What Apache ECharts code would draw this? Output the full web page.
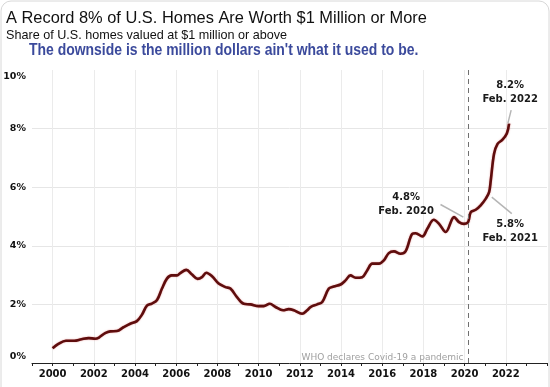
<!DOCTYPE html>
<html>
<head>
<meta charset="utf-8">
<script src="https://cdn.jsdelivr.net/npm/echarts@6/dist/echarts.min.js"></script>
<style>html,body{margin:0;padding:0;background:#fff;}#c{width:550px;height:387px;}</style>
</head>
<body>
<div id="c"></div>
<script>
// ---- data ----
const years = [2000.0,2000.28,2000.65,2001.05,2001.4,2001.75,2002.07,2002.25,2002.55,2002.8,2003.12,2003.44,2003.77,2004.09,2004.34,2004.58,2004.82,2005.07,2005.31,2005.55,2005.78,2006.04,2006.2,2006.49,2006.77,2007.04,2007.25,2007.46,2007.74,2008.06,2008.39,2008.63,2008.95,2009.28,2009.6,2010.0,2010.25,2010.54,2010.82,2011.19,2011.46,2011.71,2012.11,2012.36,2012.52,2012.84,2013.09,2013.41,2013.65,2013.98,2014.22,2014.46,2014.71,2015.03,2015.27,2015.52,2015.84,2016.08,2016.32,2016.57,2016.89,2017.14,2017.46,2017.62,2017.95,2018.19,2018.5,2018.76,2019.08,2019.49,2019.73,2019.97,2020.17,2020.3,2020.54,2020.78,2021.03,2021.19,2021.27,2021.43,2021.6,2021.84,2022.05,2022.16];
const shares = [0.50,0.65,0.76,0.76,0.81,0.85,0.83,0.87,1.02,1.08,1.09,1.22,1.34,1.43,1.65,1.96,2.03,2.15,2.54,2.88,2.99,2.99,3.07,3.18,3.02,2.87,2.93,3.08,2.96,2.71,2.59,2.54,2.25,2.02,2.0,1.94,1.94,2.02,1.91,1.8,1.84,1.8,1.68,1.8,1.91,2.0,2.08,2.54,2.61,2.68,2.82,2.99,2.91,2.93,3.16,3.39,3.39,3.5,3.75,3.81,3.73,3.82,4.41,4.43,4.32,4.58,4.89,4.75,4.47,4.98,4.81,4.75,4.81,5.15,5.23,5.38,5.61,5.83,6.23,7.14,7.48,7.62,7.83,8.17];
const xTickLabels = ['2000','2002','2004','2006','2008','2010','2012','2014','2016','2018','2020','2022'];
const yTickValues = [0,2,4,6,8,10];
const pandemicDate = 2020.2;
const pandemicText = 'WHO declares Covid-19 a pandemic';
const pandemicLabelPos = [2019.95, 0.19];
const annoTexts = [['8.2%','Feb. 2022'],['4.8%','Feb. 2020'],['5.8%','Feb. 2021']];
const annoLabelPos = [[2022.21,9.24],[2017.16,5.42],[2022.21,4.49]];
const annoLeaders = [[[2022.26,8.63],[2022.1,8.18]],[[2018.83,5.41],[2019.94,4.98]],[[2021.32,5.66],[2022.29,5.1]]];
const titleText = 'A Record 8% of U.S. Homes Are Worth $1 Million or More';
const subtitleText = 'Share of U.S. homes valued at $1 million or above';
const commentText = "The downside is the million dollars ain't what it used to be.";

const lineData = years.map((y,i)=>[y, shares[i]]);
const chart = echarts.init(document.getElementById('c'), null, {renderer:'canvas'});

const leaderLines = annoLeaders.map(p=>[{coord:p[0]},{coord:p[1]}]);

chart.setOption({
  animation:false,
  backgroundColor:'#fff',
  grid:{left:32, right:3, top:70, bottom:24, containLabel:false},
  xAxis:{
    type:'value', min:1999, max:2024, interval:1,
    axisLine:{show:true, lineStyle:{color:'#222', width:1}},
    axisTick:{show:true, length:3, lineStyle:{color:'#222'}},
    axisLabel:{margin:6, fontFamily:'DejaVu Sans', fontSize:10, fontWeight:'bold', color:'#111',
      formatter:v=> xTickLabels.indexOf(String(v))>=0 ? String(v) : ''},
    splitLine:{show:true, showMaxLine:false, lineStyle:{color:['rgba(0,0,0,0)','#ebebeb'], width:1}}
  },
  yAxis:{
    type:'value', min:0, max:10, interval:2,
    axisLine:{show:false}, axisTick:{show:false},
    axisLabel:{margin:6, fontFamily:'DejaVu Sans', fontSize:9.5, fontWeight:'bold', color:'#111',
      formatter:v=>{
        if (yTickValues.indexOf(v)<0) return '';
        if (v===0) return '{lo|0%}';
        if (v===10) return '{hi|10%}';
        return v+'%';
      },
      rich:{lo:{fontFamily:'DejaVu Sans', fontSize:9.5, fontWeight:'bold', color:'#111', padding:[0,0,12,0]},
            hi:{fontFamily:'DejaVu Sans', fontSize:9.5, fontWeight:'bold', color:'#111', padding:[14,0,0,0]}}},
    splitLine:{show:true, showMaxLine:false, lineStyle:{color:'#e6e6e6', width:1}}
  },
  series:[
    {type:'line', data:lineData, smooth:0.35, showSymbol:false, z:3,
     lineStyle:{color:'#5e0d0d', width:2.6, shadowColor:'rgba(200,30,30,0.5)', shadowBlur:1.5},
     markLine:{silent:true, symbol:'none', animation:false,
       data:[{xAxis:pandemicDate, lineStyle:{color:'#707070', type:[5,4], width:1}, label:{show:false}}].concat(
         leaderLines.map(l=>[Object.assign({lineStyle:{color:'#b5b5b5', type:'solid', width:1.5}, label:{show:false}}, l[0]), l[1]]))
     }
    }
  ]
});

// annotation texts placed at data coordinates through the grid's scales
const g = [
  {type:'rect', shape:{x:1,y:1,width:548,height:400,r:10}, style:{fill:'none', stroke:'#d8d8d8', lineWidth:1}, silent:true},
  {type:'text', x:6, y:10, scaleX:0.965, style:{text:titleText, font:'17px "Liberation Sans", Arial, sans-serif', fill:'#111'}},
  {type:'text', x:6, y:29, scaleX:0.97, style:{text:subtitleText, font:'13px "Liberation Sans", Arial, sans-serif', fill:'#111'}},
  {type:'text', x:29, y:43, scaleX:0.872, style:{text:commentText, font:'bold 16px "Liberation Sans", Arial, sans-serif', fill:'#3b4a9c'}}
];
annoTexts.forEach((t,i)=>{
  const p = chart.convertToPixel({gridIndex:0}, annoLabelPos[i]);
  g.push({type:'text', x:p[0], y:p[1], style:{text:t[0]+'\n'+t[1], font:'bold 10px "DejaVu Sans"', fill:'#1a1a1a', align:'center', verticalAlign:'middle', lineHeight:14}});
});
const wp = chart.convertToPixel({gridIndex:0}, pandemicLabelPos);
g.push({type:'text', x:wp[0], y:wp[1], style:{text:pandemicText, font:'9px "DejaVu Sans"', fill:'#a0a0a0', align:'right', verticalAlign:'middle'}});
chart.setOption({graphic:g});
</script>
</body>
</html>
